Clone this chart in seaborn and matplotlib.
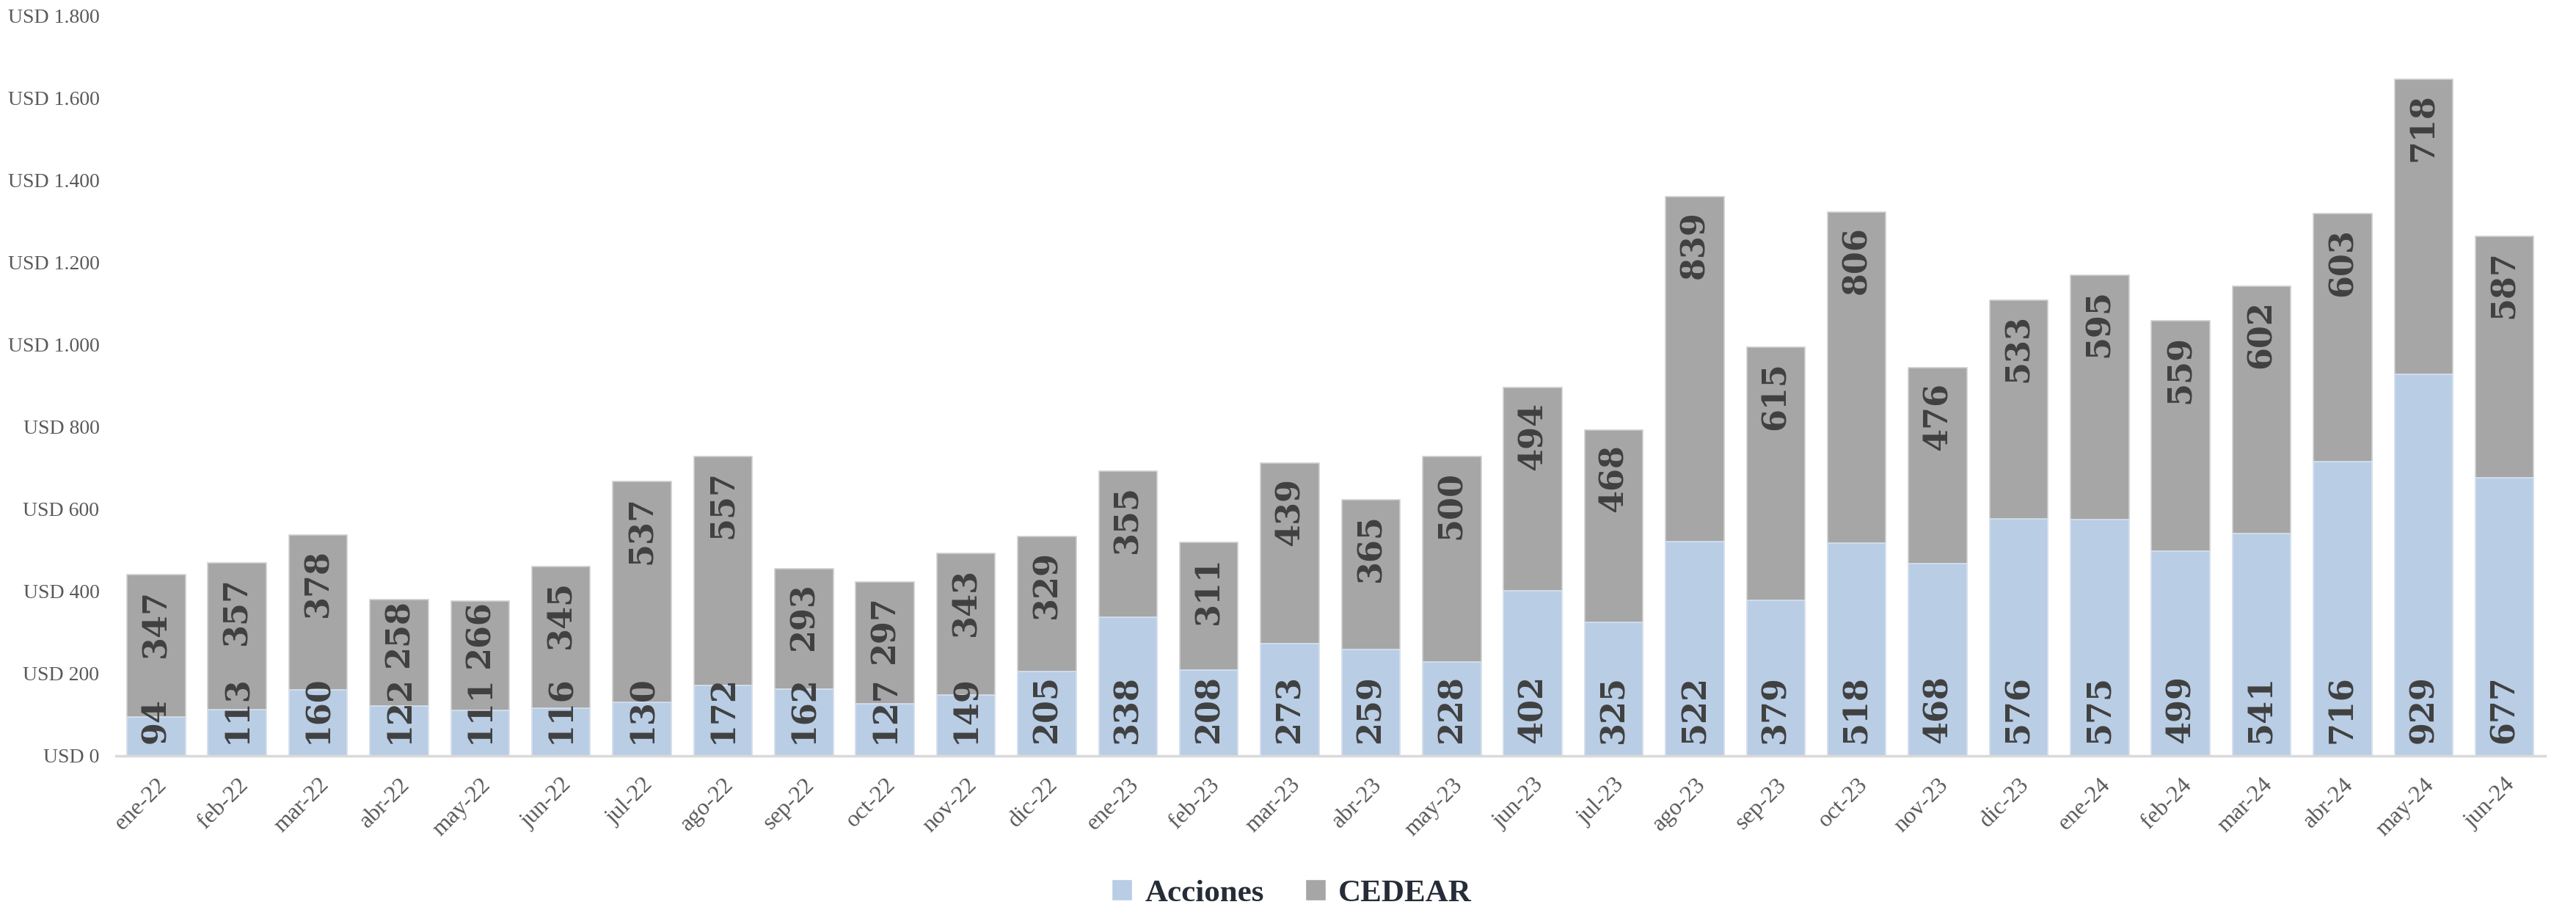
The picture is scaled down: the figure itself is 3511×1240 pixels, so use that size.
import matplotlib
matplotlib.use("Agg")
import matplotlib.pyplot as plt
import seaborn as sns
import pandas as pd
from matplotlib.patches import Patch

months = ["ene-22", "feb-22", "mar-22", "abr-22", "may-22", "jun-22", "jul-22", "ago-22",
          "sep-22", "oct-22", "nov-22", "dic-22", "ene-23", "feb-23", "mar-23", "abr-23",
          "may-23", "jun-23", "jul-23", "ago-23", "sep-23", "oct-23", "nov-23", "dic-23",
          "ene-24", "feb-24", "mar-24", "abr-24", "may-24", "jun-24"]
acciones = [94, 113, 160, 122, 111, 116, 130, 172, 162, 127, 149, 205, 338, 208, 273, 259,
            228, 402, 325, 522, 379, 518, 468, 576, 575, 499, 541, 716, 929, 677]
cedear = [347, 357, 378, 258, 266, 345, 537, 557, 293, 297, 343, 329, 355, 311, 439, 365,
          500, 494, 468, 839, 615, 806, 476, 533, 595, 559, 602, 603, 718, 587]
yticks = [0, 200, 400, 600, 800, 1000, 1200, 1400, 1600, 1800]
ytick_labels = ["USD 0", "USD 200", "USD 400", "USD 600", "USD 800", "USD 1.000",
                "USD 1.200", "USD 1.400", "USD 1.600", "USD 1.800"]

C_ACC = "#b9cde5"
C_CED = "#a6a6a6"
LBL = "#404040"
TICK = "#595959"

sns.set_style("white")
plt.rcParams["font.family"] = ["Liberation Serif", "DejaVu Serif"]

df = pd.DataFrame({"mes": months, "Acciones": acciones, "CEDEAR": cedear})
df["total"] = df["Acciones"] + df["CEDEAR"]

fig = plt.figure(figsize=(35.11, 12.40), dpi=100)
ax = fig.add_axes([0.0449, 0.1694, 0.9431, 0.8129])

sns.barplot(data=df, x="mes", y="total", color=C_CED, width=0.72, saturation=1,
            edgecolor="#d0d0d0", linewidth=1.2, ax=ax)
sns.barplot(data=df, x="mes", y="Acciones", color=C_ACC, width=0.72, saturation=1,
            edgecolor="#d8e2ef", linewidth=1.2, ax=ax)

ced_bars = ax.containers[0]
acc_bars = ax.containers[1]

ax.set_xlim(-0.5, 29.5)
ax.set_ylim(0, 1800)

NUM_FS = 32
acc_txt = []
for p, v in zip(acc_bars, acciones):
    t = ax.annotate(f"{v}", xy=(p.get_x() + p.get_width() / 2, 0), xytext=(0, 12),
                    textcoords="offset points", rotation=90, ha="center", va="bottom",
                    fontsize=NUM_FS, fontweight="bold", color=LBL, family="DejaVu Serif")
    acc_txt.append(t)

ced_txt = []
for p, v in zip(ced_bars, cedear):
    t = ax.annotate(f"{v}", xy=(p.get_x() + p.get_width() / 2, p.get_height()), xytext=(0, -14),
                    textcoords="offset points", rotation=90, ha="center", va="top",
                    fontsize=NUM_FS, fontweight="bold", color=LBL, family="DejaVu Serif")
    ced_txt.append(t)

# push CEDEAR labels up when they would collide with the Acciones label below
fig.canvas.draw()
r = fig.canvas.get_renderer()
for ta, tc in zip(acc_txt, ced_txt):
    ba = ta.get_window_extent(r)
    bc = tc.get_window_extent(r)
    gap = bc.y0 - ba.y1  # pixels, y up
    need = 10
    if gap < need:
        shift_pts = (need - gap) * 72.0 / fig.dpi
        x0, y0 = tc.xyann
        tc.xyann = (x0, y0 + shift_pts)

ax.set_yticks(yticks)
ax.set_yticklabels(ytick_labels, fontsize=20, color=TICK)
ax.set_xticks(range(len(months)))
ax.set_xticklabels(months, rotation=45, ha="right", rotation_mode="anchor",
                   fontsize=23, color=TICK)
ax.tick_params(axis="x", length=0, pad=18)
ax.tick_params(axis="y", length=0, pad=16)
ax.set_xlabel("")
ax.set_ylabel("")
for s in ["top", "right", "left"]:
    ax.spines[s].set_visible(False)
ax.spines["bottom"].set_color("#d9d9d9")
ax.spines["bottom"].set_linewidth(2.5)
ax.grid(False)

handles = [Patch(facecolor=C_ACC, label="Acciones"), Patch(facecolor=C_CED, label="CEDEAR")]
fig.legend(handles=handles, loc="center", bbox_to_anchor=(0.5015, 0.018), ncol=2,
           frameon=False, prop={"size": 31, "weight": "bold"}, labelcolor="#262d38",
           handlelength=0.65, handleheight=0.65, handletextpad=0.4, columnspacing=1.3)

fig.savefig("out.png", dpi=100, facecolor="white")
